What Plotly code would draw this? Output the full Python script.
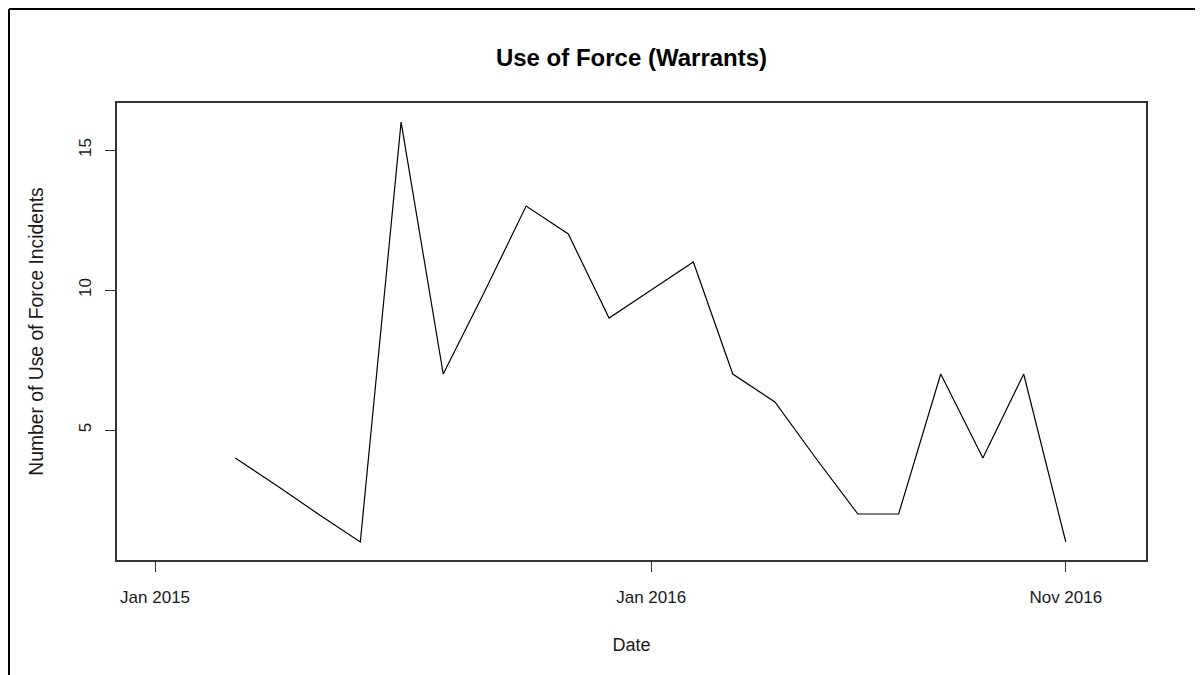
import plotly.graph_objects as go

# monthly counts of use-of-force incidents (warrants)
months = ['2015-03-01', '2015-04-01', '2015-05-01', '2015-06-01', '2015-07-01',
          '2015-08-01', '2015-09-01', '2015-10-01', '2015-11-01', '2015-12-01',
          '2016-01-01', '2016-02-01', '2016-03-01', '2016-04-01', '2016-05-01',
          '2016-06-01', '2016-07-01', '2016-08-01', '2016-09-01', '2016-10-01',
          '2016-11-01']
incidents = [4, 3, 2, 1, 16, 7, 10, 13, 12, 9, 10, 11, 7, 6, 4, 2, 2, 7, 4, 7, 1]

x_tick_vals = ['2015-01-01', '2016-01-01', '2016-11-01']
x_tick_text = ['Jan 2015', 'Jan 2016', 'Nov 2016']
y_tick_vals = [5, 10, 15]

fig = go.Figure()
fig.add_trace(go.Scatter(x=months, y=incidents, mode='lines',
                         line=dict(color='black', width=1.2),
                         showlegend=False, hoverinfo='skip'))

# the page body has an 8px margin, so the figure is 8px smaller than the window
W, H = 1195, 667
ml, mr, mt, mb = 109, 57, 95, 115
pw, ph = W - ml - mr, H - mt - mb

font = 'Liberation Sans, Arial, sans-serif'
fig.update_layout(
    width=W, height=H,
    margin=dict(l=ml, r=mr, t=mt, b=mb, autoexpand=False),
    paper_bgcolor='white', plot_bgcolor='white',
    font=dict(family=font, size=17, color='#1a1a1a'),
    title=dict(text='<b>Use of Force (Warrants)</b>', x=(ml + pw / 2) / W, xanchor='center',
               y=1 - 50 / H, yanchor='middle', font=dict(size=24, color='black')),
)
fig.update_xaxes(
    range=['2014-12-04', '2016-12-30'],
    tickvals=x_tick_vals, ticktext=x_tick_text,
    showgrid=False, zeroline=False,
    showline=True, linecolor='#333', linewidth=1.5, mirror=True,
    ticks='outside', ticklen=10, tickcolor='#333', tickwidth=1,
    ticklabelstandoff=11,
    title=dict(text='Date', standoff=32, font=dict(size=18)),
)
fig.update_yaxes(
    range=[0.357, 16.68],
    tickvals=y_tick_vals, tickangle=-90,
    showgrid=False, zeroline=False,
    showline=True, linecolor='#333', linewidth=1.5, mirror=True,
    ticks='outside', ticklen=10, tickcolor='#333', tickwidth=1,
    ticklabelstandoff=7,
    title=dict(text='Number of Use of Force Incidents', standoff=28, font=dict(size=19.3)),
)

# page frame of the source document
fig.add_shape(type='line', xref='paper', yref='paper',
              x0=(1 - ml) / pw, x1=(W + 5 - ml) / pw,
              y0=(H - mb - 1) / ph, y1=(H - mb - 1) / ph,
              line=dict(color='black', width=2))
fig.add_shape(type='line', xref='paper', yref='paper',
              x0=(1 - ml) / pw, x1=(1 - ml) / pw,
              y0=(H - mb - 1) / ph, y1=-(mb + 5) / ph,
              line=dict(color='black', width=2))

fig.write_html('out.html')
